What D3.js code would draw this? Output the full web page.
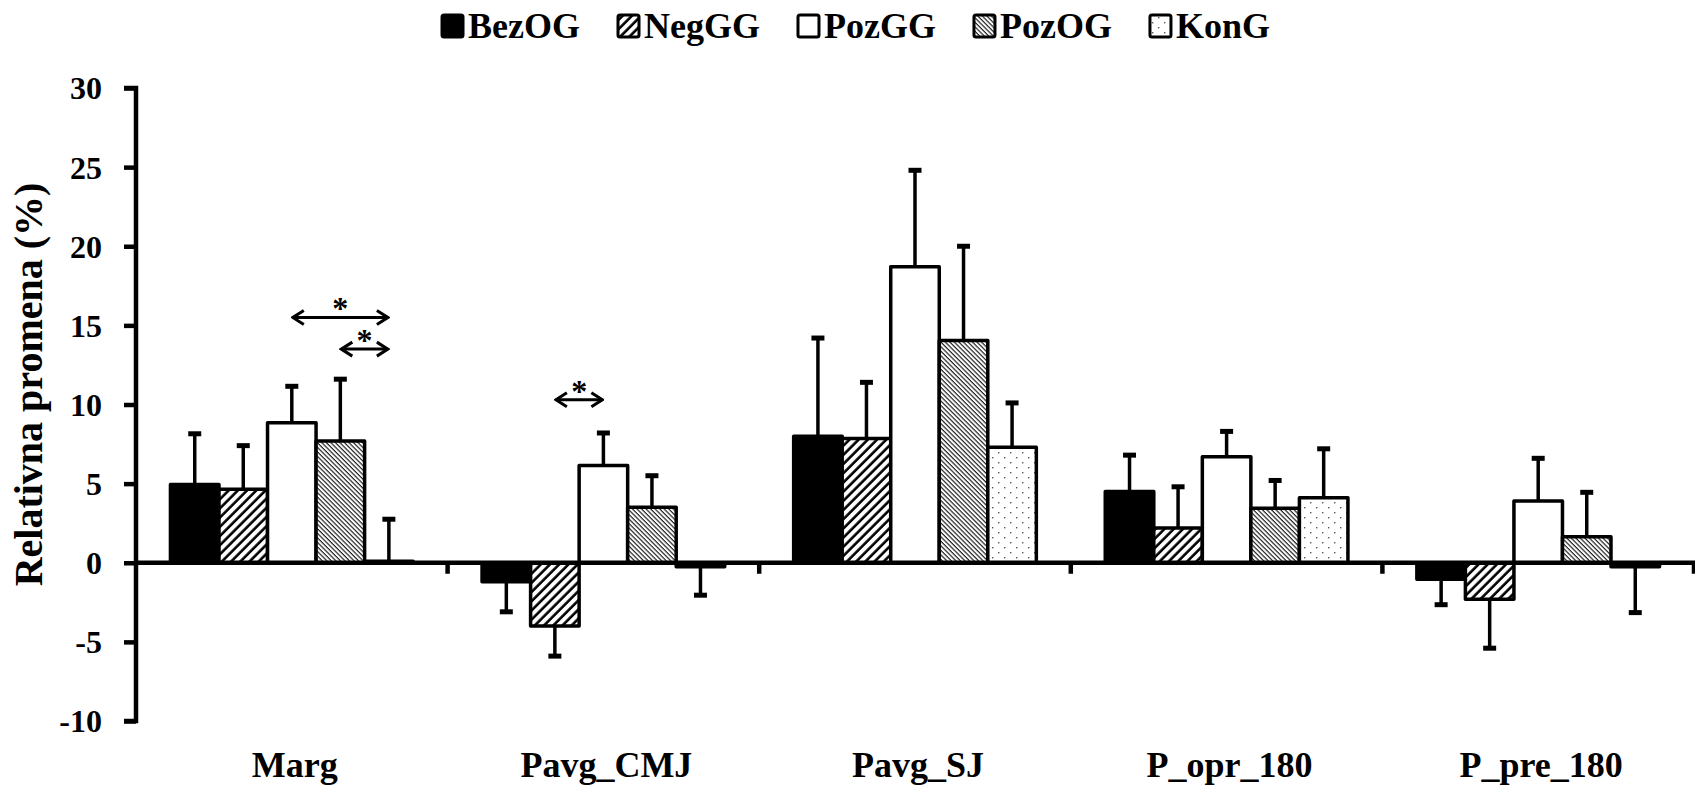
<!DOCTYPE html>
<html>
<head>
<meta charset="utf-8">
<script src="https://cdn.jsdelivr.net/npm/d3@7"></script>
<style>
  html, body { margin: 0; padding: 0; background: #fff; }
  svg { display: block; }
</style>
</head>
<body>
<svg id="chart" width="1695" height="785"></svg>
<script>
// ---- data ----
const categories = ["Marg", "Pavg_CMJ", "Pavg_SJ", "P_opr_180", "P_pre_180"];
const groups = ["BezOG", "NegGG", "PozGG", "PozOG", "KonG"];
const BezOG = [4.95, -1.2, 8.0, 4.5, -1.05];
const NegGG = [4.65, -4.0, 7.85, 2.2, -2.3];
const PozGG = [8.85, 6.15, 18.7, 6.7, 3.9];
const PozOG = [7.7, 3.5, 14.05, 3.45, 1.65];
const KonG = [0.1, -0.25, 7.3, 4.1, -0.25];
const BezOG_err = [3.2, 1.9, 6.2, 2.3, 1.6];
const NegGG_err = [2.75, 1.9, 3.55, 2.6, 3.1];
const PozGG_err = [2.3, 2.05, 6.1, 1.6, 2.7];
const PozOG_err = [3.9, 2.0, 5.95, 1.75, 2.8];
const KonG_err = [2.65, 1.8, 2.8, 3.1, 2.9];
const yTicks = [-10, -5, 0, 5, 10, 15, 20, 25, 30];
const yTitle = "Relativna promena (%)";
// significance arrows: category, from group, to group, level (value units)
const sigCategory = ["Marg", "Marg", "Pavg_CMJ"];
const sigFrom = ["PozGG", "PozOG", "NegGG"];
const sigTo = ["KonG", "KonG", "PozGG"];
const sigLevel = [15.5, 13.5, 10.3];

const values = { BezOG, NegGG, PozGG, PozOG, KonG };
const errors = { BezOG: BezOG_err, NegGG: NegGG_err, PozGG: PozGG_err, PozOG: PozOG_err, KonG: KonG_err };

const FONT = "'Liberation Serif', 'Times New Roman', Tinos, serif";
function serif(sel, size) {
  return sel.style("font-family", FONT).style("font-weight", "bold").style("font-size", size + "px").attr("fill", "#000");
}

// ---- layout ----
const svg = d3.select("#chart");
const x0 = d3.scaleBand().domain(categories).range([136, 1694]).padding(0);
const x1 = d3.scaleBand().domain(groups).range([0, x0.bandwidth()]).paddingInner(0).paddingOuter(0.71);
const y = d3.scaleLinear().domain([-10, 30]).range([721, 88]);

// ---- patterns ----
const defs = svg.append("defs");
const pNeg = defs.append("pattern").attr("id", "pNeg").attr("patternUnits", "userSpaceOnUse")
  .attr("width", 6.5).attr("height", 6.5).attr("patternTransform", "rotate(45)");
pNeg.append("rect").attr("width", 6.5).attr("height", 6.5).attr("fill", "#fff");
pNeg.append("line").attr("x1", 1.5).attr("y1", 0).attr("x2", 1.5).attr("y2", 6.5).attr("stroke", "#000").attr("stroke-width", 2.6);

const pPozOG = defs.append("pattern").attr("id", "pPozOG").attr("patternUnits", "userSpaceOnUse")
  .attr("width", 3.2).attr("height", 3.2).attr("patternTransform", "rotate(-45)");
pPozOG.append("rect").attr("width", 3.2).attr("height", 3.2).attr("fill", "#fff");
pPozOG.append("line").attr("x1", 1).attr("y1", 0).attr("x2", 1).attr("y2", 3.2).attr("stroke", "#222").attr("stroke-width", 1.2);

const pKon = defs.append("pattern").attr("id", "pKon").attr("patternUnits", "userSpaceOnUse")
  .attr("width", 12).attr("height", 10);
pKon.append("rect").attr("width", 12).attr("height", 10).attr("fill", "#fff");
pKon.append("rect").attr("x", 2).attr("y", 2).attr("width", 1.4).attr("height", 1.4).attr("fill", "#555");
pKon.append("rect").attr("x", 8).attr("y", 7).attr("width", 1.4).attr("height", 1.4).attr("fill", "#555");

const fills = { BezOG: "#000", NegGG: "url(#pNeg)", PozGG: "#fff", PozOG: "url(#pPozOG)", KonG: "url(#pKon)" };

// ---- bars ----
const cells = [];
categories.forEach((c, i) => groups.forEach(g => cells.push({ c, g, v: values[g][i], e: errors[g][i] })));

const plot = svg.append("g");
plot.selectAll("rect.bar").data(cells).join("rect")
  .attr("class", "bar")
  .attr("x", d => x0(d.c) + x1(d.g))
  .attr("width", x1.bandwidth())
  .attr("y", d => y(Math.max(0, d.v)))
  .attr("height", d => Math.abs(y(d.v) - y(0)))
  .attr("fill", d => fills[d.g])
  .attr("stroke", "#000").attr("stroke-width", 3.5).attr("stroke-linejoin", "round");

// ---- error bars (one-sided) ----
const eb = plot.selectAll("g.err").data(cells).join("g").attr("class", "err");
const ex = d => x0(d.c) + x1(d.g) + x1.bandwidth() / 2;
const ey = d => y(d.v >= 0 ? d.v + d.e : d.v - d.e);
eb.append("line")
  .attr("x1", ex).attr("x2", ex)
  .attr("y1", d => y(d.v)).attr("y2", ey)
  .attr("stroke", "#000").attr("stroke-width", 3.5);
eb.append("line")
  .attr("x1", d => ex(d) - 6.5).attr("x2", d => ex(d) + 6.5)
  .attr("y1", ey).attr("y2", ey)
  .attr("stroke", "#000").attr("stroke-width", 5);

// ---- x axis line at zero ----
const xAxis = d3.axisBottom(x0).tickSize(0).tickFormat("");
const xg = svg.append("g").attr("transform", `translate(0,${y(0)})`).call(xAxis);
xg.select(".domain").attr("stroke", "#000").attr("stroke-width", 4.5).attr("d", `M136,0H1695`);
const bounds = categories.map(c => x0(c) + x0.bandwidth());
xg.selectAll("line.bt").data(bounds).join("line").attr("class", "bt")
  .attr("x1", d => d).attr("x2", d => d).attr("y1", 0).attr("y2", 11)
  .attr("stroke", "#000").attr("stroke-width", 4.5);

// category labels
serif(svg.append("g").selectAll("text").data(categories).join("text")
  .attr("x", d => x0(d) + x0.bandwidth() / 2 + 3)
  .attr("y", 777)
  .attr("text-anchor", "middle")
  .text(d => d), 36);

// ---- y axis ----
const yAxis = d3.axisLeft(y).tickValues(yTicks).tickSize(12).tickPadding(22).tickFormat(d => String(d));
const yg = svg.append("g").attr("transform", "translate(136,0)").call(yAxis);
yg.select(".domain").attr("stroke", "#000").attr("stroke-width", 4.5).attr("d", `M-12,${y(30)}H0V${y(-10)}H-12`);
yg.selectAll(".tick line").attr("stroke", "#000").attr("stroke-width", 4.5);
serif(yg.selectAll(".tick text"), 32).attr("dy", "0.34em");

serif(svg.append("text")
  .attr("transform", `translate(42,${(y(30) + y(-10)) / 2 - 20}) rotate(-90)`)
  .attr("text-anchor", "middle")
  .text(yTitle), 40);

// ---- significance arrows ----
defs.append("marker").attr("id", "ah").attr("viewBox", "-13 -9 15 18")
  .attr("markerWidth", 15).attr("markerHeight", 18).attr("markerUnits", "userSpaceOnUse")
  .attr("orient", "auto-start-reverse").attr("refX", 0).attr("refY", 0)
  .append("path").attr("d", "M-11,-7L0,0L-11,7").attr("fill", "none").attr("stroke", "#000").attr("stroke-width", 3);

const sig = sigCategory.map((c, i) => ({
  xa: x0(c) + x1(sigFrom[i]) + x1.bandwidth() / 2,
  xb: x0(c) + x1(sigTo[i]) + x1.bandwidth() / 2,
  yy: y(sigLevel[i])
}));
const sg = svg.append("g");
sg.selectAll("line").data(sig).join("line")
  .attr("x1", d => d.xa + 1).attr("x2", d => d.xb - 1)
  .attr("y1", d => d.yy).attr("y2", d => d.yy)
  .attr("stroke", "#000").attr("stroke-width", 3)
  .attr("marker-start", "url(#ah)").attr("marker-end", "url(#ah)");
serif(sg.selectAll("text").data(sig).join("text")
  .attr("x", d => (d.xa + d.xb) / 2).attr("y", d => d.yy + 2)
  .attr("text-anchor", "middle").text("*"), 32);

// ---- legend ----
const leg = svg.append("g");
const items = leg.selectAll("g").data(groups).join("g");
items.append("rect").attr("x", 0).attr("y", 15).attr("width", 21).attr("height", 22).attr("rx", 2)
  .attr("fill", d => fills[d]).attr("stroke", "#000").attr("stroke-width", 3);
serif(items.append("text").attr("x", 26).attr("y", 38).text(d => d), 36);
const widths = [];
items.each(function () { widths.push(this.getBBox().width); });
const gap = 38;
const total = d3.sum(widths) + gap * (widths.length - 1);
let start = 856 - total / 2;
items.attr("transform", (d, i) => {
  const t = `translate(${start},0)`;
  start += widths[i] + gap;
  return t;
});
</script>
</body>
</html>
